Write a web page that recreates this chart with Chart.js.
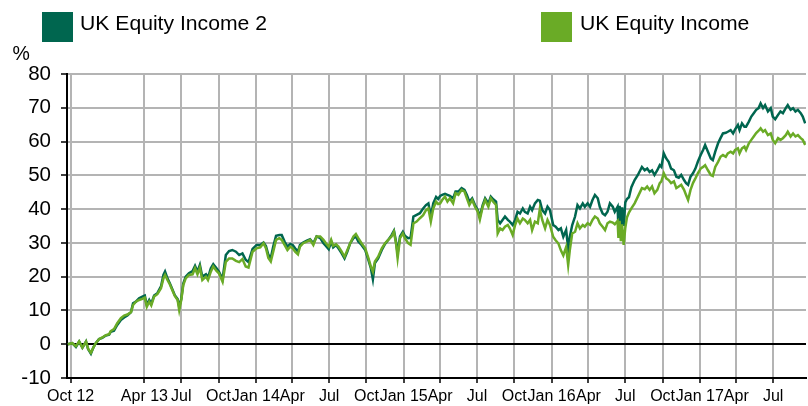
<!DOCTYPE html>
<html>
<head>
<meta charset="utf-8">
<script src="https://cdn.jsdelivr.net/npm/chart.js@4.4.1/dist/chart.umd.min.js"></script>
<style>
  html, body { margin: 0; padding: 0; background: #fff; }
  #wrap { position: relative; width: 808px; height: 406px; font-family: "Liberation Sans", Arial, sans-serif; color: #000; }
  #c { position: absolute; left: 0; top: 0; }
  .swatch { position: absolute; top: 12px; width: 31px; height: 30px; }
  .keytext { position: absolute; top: 12.6px; font-size: 19.5px; line-height: 20px; white-space: nowrap; transform: scaleX(1.085); transform-origin: 0 0; }
  #unit { position: absolute; left: 12.5px; top: 43px; font-size: 19.5px; line-height: 20px; }
</style>
</head>
<body>
<div id="wrap">
  <canvas id="c" width="808" height="406"></canvas>
  <div id="unit">%</div>
</div>
<script>
// Cumulative total return, %, of the two funds
const seriesNames = ['UK Equity Income 2', 'UK Equity Income'];
const seriesColors = ['#00664f', '#6aab26'];

const dates = [
  // 2012
  '2012-09-24','2012-10-05','2012-10-14','2012-10-22','2012-10-30','2012-11-08','2012-11-13','2012-11-20','2012-11-26','2012-12-02','2012-12-10','2012-12-18','2012-12-27',
  // 2013
  '2013-01-04','2013-01-08','2013-01-16','2013-01-24','2013-02-02','2013-02-10','2013-02-18','2013-02-27','2013-03-04','2013-03-11','2013-03-19','2013-03-27',
  '2013-04-02','2013-04-07','2013-04-13','2013-04-18','2013-04-25','2013-05-03','2013-05-12','2013-05-18','2013-05-22','2013-05-28',
  '2013-06-03','2013-06-09','2013-06-15','2013-06-22','2013-06-26','2013-07-01','2013-07-06','2013-07-12','2013-07-20','2013-07-29',
  '2013-08-04','2013-08-10','2013-08-16','2013-08-22','2013-08-31','2013-09-05','2013-09-12','2013-09-18','2013-09-26',
  '2013-10-02','2013-10-11','2013-10-19','2013-10-27','2013-11-04','2013-11-13','2013-11-21','2013-11-29','2013-12-07','2013-12-14','2013-12-24',
  // 2014
  '2014-01-03','2014-01-12','2014-01-20','2014-01-26','2014-02-01','2014-02-07','2014-02-13','2014-02-20','2014-02-28',
  '2014-03-06','2014-03-13','2014-03-20','2014-03-27','2014-04-02','2014-04-08','2014-04-15','2014-04-20','2014-04-28',
  '2014-05-07','2014-05-15','2014-05-23','2014-05-31','2014-06-09','2014-06-17','2014-06-23','2014-06-30',
  '2014-07-06','2014-07-11','2014-07-18','2014-07-24','2014-08-01','2014-08-08','2014-08-15','2014-08-22','2014-08-30',
  '2014-09-05','2014-09-11','2014-09-19','2014-09-28','2014-10-06','2014-10-12','2014-10-17','2014-10-22','2014-10-30',
  '2014-11-08','2014-11-16','2014-11-24','2014-12-02','2014-12-08','2014-12-13','2014-12-17','2014-12-23','2014-12-30',
  // 2015
  '2015-01-04','2015-01-12','2015-01-18','2015-01-25','2015-02-02','2015-02-10','2015-02-18','2015-02-25',
  '2015-03-03','2015-03-09','2015-03-15','2015-03-22','2015-03-27','2015-04-01','2015-04-06','2015-04-13','2015-04-19','2015-04-25',
  '2015-05-03','2015-05-09','2015-05-16','2015-05-24','2015-05-31','2015-06-06','2015-06-12','2015-06-19','2015-06-26',
  '2015-07-03','2015-07-08','2015-07-15','2015-07-21','2015-07-29','2015-08-04','2015-08-10','2015-08-17','2015-08-21','2015-08-27',
  '2015-09-02','2015-09-08','2015-09-15','2015-09-20','2015-09-27','2015-10-03','2015-10-09','2015-10-15','2015-10-22','2015-10-27',
  '2015-11-03','2015-11-09','2015-11-14','2015-11-21','2015-11-28','2015-12-03','2015-12-09','2015-12-16','2015-12-22','2015-12-28',
  // 2016
  '2016-01-05','2016-01-11','2016-01-18','2016-01-24','2016-01-30','2016-02-06','2016-02-11','2016-02-15','2016-02-21','2016-02-28',
  '2016-03-05','2016-03-11','2016-03-18','2016-03-23','2016-03-30','2016-04-05','2016-04-11','2016-04-17','2016-04-24','2016-04-29',
  '2016-05-06','2016-05-12','2016-05-18','2016-05-24','2016-05-31','2016-06-05','2016-06-12','2016-06-14','2016-06-17','2016-06-20','2016-06-23','2016-06-27',
  '2016-07-01','2016-07-05','2016-07-10','2016-07-16','2016-07-24','2016-08-01','2016-08-11','2016-08-18','2016-08-24','2016-08-30',
  '2016-09-05','2016-09-11','2016-09-18','2016-09-24','2016-09-28','2016-10-04','2016-10-10','2016-10-16','2016-10-22','2016-10-29',
  '2016-11-04','2016-11-10','2016-11-16','2016-11-23','2016-11-28','2016-12-03','2016-12-09','2016-12-15','2016-12-21','2016-12-27',
  // 2017
  '2017-01-03','2017-01-09','2017-01-14','2017-01-21','2017-01-28','2017-02-02','2017-02-08','2017-02-15','2017-02-21','2017-02-27',
  '2017-03-06','2017-03-11','2017-03-18','2017-03-24','2017-03-29','2017-04-05','2017-04-09','2017-04-15','2017-04-21','2017-04-25',
  '2017-05-02','2017-05-08','2017-05-14','2017-05-20','2017-05-26','2017-05-31','2017-06-06','2017-06-11','2017-06-18','2017-06-25','2017-06-30',
  '2017-07-06','2017-07-13','2017-07-19','2017-07-25','2017-08-01','2017-08-06','2017-08-13','2017-08-19','2017-08-25','2017-08-31',
  '2017-09-07','2017-09-12','2017-09-18'
];

const equityIncome2 = [
  // 2012
  0,0.3,-0.8,0.8,-1.0,0.8,-1.4,-2.8,-1.0,0.3,1.5,1.9,2.6,
  // 2013
  2.8,3.7,4.0,5.7,7.2,7.9,8.5,9.5,12.1,12.6,13.6,14.1,
  14.4,11.6,13.1,12.0,14.4,15.1,17.1,20.5,21.5,19.5,
  18.0,16.3,14.5,13.4,11.1,13.4,18.0,20.0,21.0,21.7,
  23.2,21.5,23.5,20.0,20.7,19.7,22.5,23.7,22.5,
  21.5,19.3,26.4,27.6,27.9,27.4,26.4,26.9,25.0,24.3,28.2,
  // 2014
  29.4,29.4,30.1,29.1,26.5,25.5,28.9,32.1,32.3,
  32.3,30.4,28.9,29.7,29.4,28.4,27.4,29.4,30.1,
  30.7,31.1,29.9,31.9,31.4,29.9,29.1,28.1,
  30.4,28.7,29.4,28.4,26.9,25.4,27.4,29.9,31.4,
  31.9,30.4,29.4,27.9,24.9,22.5,19.2,24.0,25.4,
  27.9,29.7,30.9,32.3,33.6,30.4,26.9,31.9,33.3,
  // 2015
  32.1,31.4,31.5,37.8,38.3,38.8,40.2,41.2,
  41.7,37.8,41.7,43.6,43.0,43.9,44.2,44.5,44.2,43.9,
  43.2,45.2,45.2,46.2,45.7,44.2,42.2,43.2,41.2,
  39.7,37.7,41.2,43.2,41.7,43.7,42.9,42.2,36.8,35.8,
  36.8,37.8,36.8,36.3,35.3,36.8,39.2,38.7,40.2,39.2,
  38.7,40.7,39.7,41.7,42.7,42.5,39.7,38.7,40.7,39.7,
  // 2016
  35.3,34.8,33.8,34.3,31.8,33.8,28.3,31.8,35.3,37.8,
  41.2,40.2,41.7,40.7,41.7,40.7,42.7,44.2,43.2,40.7,
  38.7,38.2,39.2,41.7,40.7,39.2,40.7,34.5,41.0,34.0,40.5,35.0,
  42.0,43.0,43.5,46.5,48.6,50.1,52.5,51.5,52.0,51.0,
  51.5,50.1,51.5,53.0,52.5,56.5,55.0,54.0,52.0,51.5,
  49.6,49.3,50.1,48.6,47.7,47.2,49.6,50.6,52.0,54.0,
  // 2017
  56.0,57.5,59.0,57.0,55.0,54.5,57.0,59.5,61.0,62.4,
  62.6,62.9,63.4,62.4,63.6,64.9,63.4,65.4,64.4,64.4,
  65.9,67.4,68.4,69.4,69.9,71.3,69.9,70.8,68.9,69.9,67.4,
  66.6,67.9,68.9,68.4,69.9,70.8,69.4,69.9,68.9,69.4,
  68.4,67.4,65.4
];

const equityIncome = [
  // 2012
  0,0.3,-0.6,0.8,-1.0,0.8,-1.3,-2.5,-1.0,0.3,1.5,2.0,2.7,
  // 2013
  3.0,3.9,4.5,6.2,7.7,8.5,8.8,9.5,11.6,12.6,13.1,13.4,
  13.8,11.1,12.6,11.5,14.1,14.8,16.6,19.5,20.5,19.0,
  17.7,16.0,14.3,13.1,10.1,13.1,17.5,19.5,20.5,20.7,
  22.5,20.7,22.7,19.0,20.0,19.0,21.5,23.0,21.7,
  21.0,18.5,24.4,25.4,25.4,24.7,24.3,25.2,23.0,22.7,27.4,
  // 2014
  28.4,28.7,29.9,28.4,25.5,24.5,27.4,30.9,31.4,
  30.9,29.4,27.9,28.9,28.4,27.4,26.6,28.9,29.9,
  30.4,30.9,29.4,31.9,31.9,30.9,29.9,28.9,
  30.9,29.1,29.6,28.9,27.4,25.9,27.9,29.9,31.9,
  32.6,31.4,29.9,28.4,25.5,23.0,21.5,24.5,25.9,
  28.4,29.9,30.9,31.9,33.3,29.9,25.5,31.4,32.8,
  // 2015
  31.4,29.9,29.4,35.8,36.3,37.3,38.2,39.7,
  40.2,36.3,40.2,42.2,41.5,41.7,42.7,43.7,42.2,43.2,
  41.7,44.7,44.2,45.7,45.2,43.2,41.2,42.7,40.7,
  39.2,36.9,40.7,42.7,40.7,43.2,42.2,41.2,32.8,34.3,
  33.8,34.8,35.3,34.3,32.3,35.3,37.2,35.8,37.2,36.8,
  35.8,36.8,33.8,36.3,35.8,40.0,36.8,34.3,36.8,35.3,
  // 2016
  31.8,30.8,29.8,27.8,26.3,28.8,23.4,27.8,32.8,33.3,
  35.8,34.3,35.3,34.8,35.8,35.3,36.8,37.8,37.2,35.8,
  34.8,33.8,35.8,36.3,36.0,35.5,36.5,31.5,36.5,30.5,35.5,29.4,
  34.5,37.5,39.0,40.2,41.7,43.7,46.2,45.9,46.7,45.7,
  46.7,44.7,45.7,47.7,48.2,50.6,49.1,48.6,47.7,48.2,
  46.2,46.7,47.2,45.7,44.2,42.7,45.7,47.7,49.1,50.6,
  // 2017
  52.0,52.5,53.0,51.5,50.1,49.8,52.5,54.0,55.5,56.0,
  55.5,56.5,57.0,56.5,57.5,58.0,56.5,58.0,58.5,57.5,
  59.5,60.5,61.5,62.5,63.2,63.9,62.9,63.4,61.9,62.4,60.5,
  59.5,61.0,60.5,61.0,61.9,62.9,61.5,62.4,61.5,61.9,
  61.0,60.5,59.0
];

// Quarterly axis marks and their labels
const tickDates = [
  '2012-10-01','2013-04-01','2013-07-01','2013-10-01','2014-01-01','2014-04-01','2014-07-01','2014-10-01',
  '2015-01-01','2015-04-01','2015-07-01','2015-10-01','2016-01-01','2016-04-01','2016-07-01','2016-10-01',
  '2017-01-01','2017-04-01','2017-07-01'
];
const tickLabels = [
  'Oct 12','Apr 13','Jul','Oct','Jan 14','Apr','Jul','Oct',
  'Jan 15','Apr','Jul','Oct','Jan 16','Apr','Jul','Oct',
  'Jan 17','Apr','Jul'
];
const axisStart = '2012-09-22';
const axisEnd = '2017-09-20';

function dayNum(s) {
  const [y, m, d] = s.split('-').map(Number);
  return Date.UTC(y, m - 1, d) / 86400000;
}
function points(values) {
  return values.map((v, i) => ({ x: dayNum(dates[i]), y: v }));
}

// Key above the plot
const wrap = document.getElementById('wrap');
[[0, 42, 80], [1, 541, 580]].forEach(([i, boxX, textX]) => {
  const sw = document.createElement('div');
  sw.className = 'swatch';
  sw.style.left = boxX + 'px';
  sw.style.background = seriesColors[i];
  wrap.appendChild(sw);
  const tx = document.createElement('div');
  tx.className = 'keytext';
  tx.style.left = textX + 'px';
  tx.textContent = seriesNames[i];
  wrap.appendChild(tx);
});

const grey = '#b4b4b4';
const tickFont = { family: '"Liberation Sans", Arial, sans-serif' };

new Chart(document.getElementById('c'), {
  type: 'line',
  data: {
    datasets: [
      // first dataset is painted last, so the lighter line sits on top
      { label: seriesNames[1], data: points(equityIncome), borderColor: seriesColors[1],
        borderWidth: 2.5, pointRadius: 0, tension: 0, fill: false },
      { label: seriesNames[0], data: points(equityIncome2), borderColor: seriesColors[0],
        borderWidth: 2.5, pointRadius: 0, tension: 0, fill: false }
    ]
  },
  options: {
    responsive: false,
    animation: false,
    devicePixelRatio: 1,
    parsing: false,
    layout: { padding: { left: 0, right: 2, top: 74, bottom: 0 } },
    plugins: { legend: { display: false }, tooltip: { enabled: false } },
    scales: {
      x: {
        type: 'linear',
        min: dayNum(axisStart),
        max: dayNum(axisEnd),
        afterBuildTicks: s => { s.ticks = tickDates.map(d => ({ value: dayNum(d) })); },
        afterFit: s => { s.height = 28; },
        grid: { color: grey, lineWidth: 2, tickColor: '#000', tickLength: 5, tickWidth: 1.5 },
        border: { color: '#000', width: 2 },
        ticks: {
          autoSkip: false, maxRotation: 0, minRotation: 0, padding: 4, color: '#000',
          font: Object.assign({ size: 16 }, tickFont),
          callback: (v, i) => tickLabels[i]
        }
      },
      y: {
        min: -10,
        max: 80,
        afterFit: s => { s.width = 67; },
        grid: {
          color: c => (c.tick && c.tick.value === 0 ? '#000' : grey),
          lineWidth: 2, tickColor: '#000', tickLength: 6, tickWidth: 1.5
        },
        border: { color: '#000', width: 2 },
        ticks: { stepSize: 10, padding: 10, color: '#000', font: Object.assign({ size: 20.5 }, tickFont) }
      }
    }
  }
});
</script>
</body>
</html>
